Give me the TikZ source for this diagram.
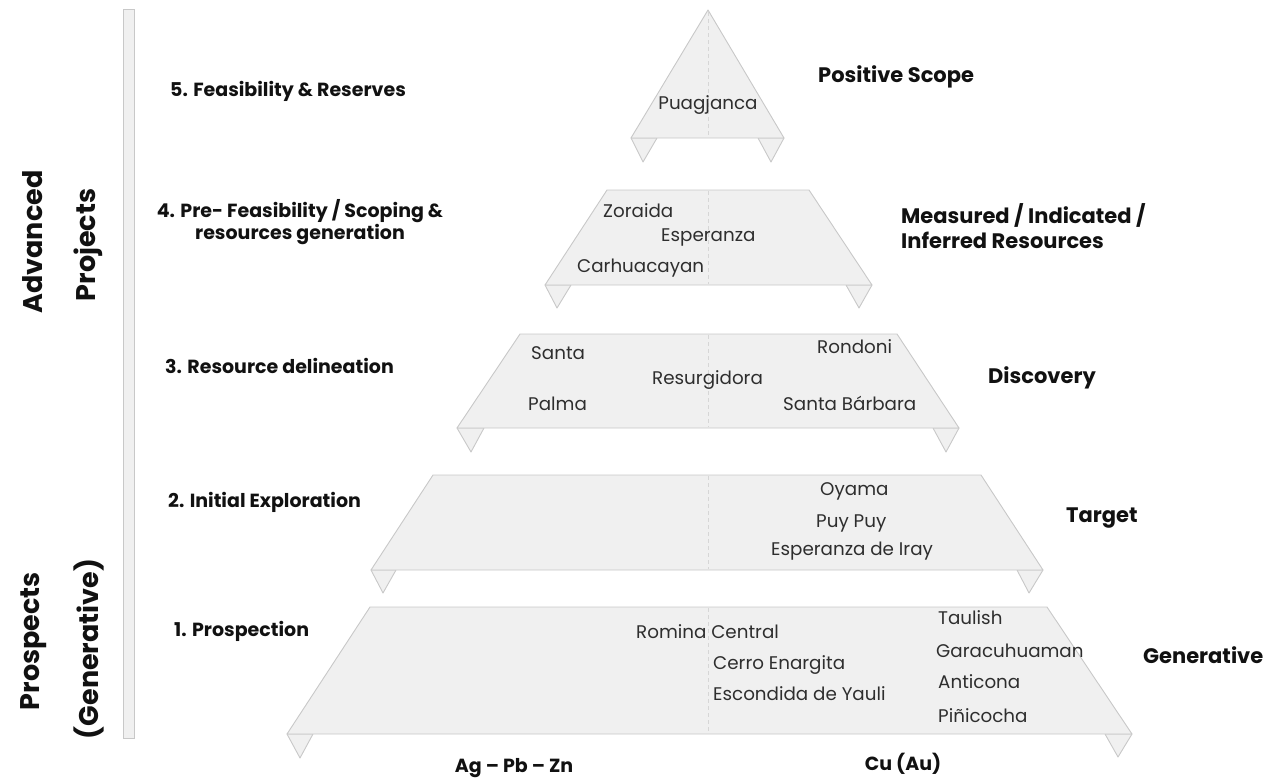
\documentclass[tikz,border=0pt]{standalone}
\usepackage{fontspec}
\setmainfont{Poppins}
\definecolor{tierfill}{HTML}{F0F0F0}
\definecolor{tierline}{HTML}{C8C8C8}
\definecolor{midline}{HTML}{D6D6D6}
\definecolor{inner}{HTML}{2E2E2E}
\definecolor{boldtxt}{HTML}{111111}
\tikzset{
  tier/.style={fill=tierfill, draw=tierline, line width=0.9pt, line join=round},
  tab/.style={fill=tierfill, draw=tierline, line width=0.9pt, line join=round},
  centreline/.style={draw=midline, dashed, dash pattern=on 4pt off 3pt, line width=0.8pt},
  site/.style={inner sep=0pt, anchor=base west, text=inner, font=\fontsize{18.3}{21}\selectfont},
  stage/.style={inner sep=0pt, anchor=base west, text=boldtxt, font=\bfseries\fontsize{19}{22}\selectfont},
  level/.style={inner sep=0pt, anchor=base west, text=boldtxt, font=\bfseries\fontsize{21}{25}\selectfont},
  grouplbl/.style={inner sep=0pt, rotate=90, text=boldtxt, font=\bfseries\fontsize{27}{32}\selectfont},
}
\begin{document}
\begin{tikzpicture}[x=1pt, y=-1pt]
\useasboundingbox (0,0) rectangle (1266,777);
% vertical bar
\draw[fill=tierfill, draw=tierline, line width=0.9pt] (123,9) rectangle (134,738);
% group labels
\node[grouplbl] (adv) at (33,242) {Advanced};
\node[grouplbl] (proj) at (88,245) {Projects};
\node[grouplbl] (pros) at (34,641) {Prospects};
\node[grouplbl] (gen) at (89,649) {(Generative)};

% level 5
\draw[tab] (631,138) -- (657,138) -- (643,162) -- cycle;
\draw[tab] (758,138) -- (784,138) -- (771,162) -- cycle;
\draw[tier] (708,10) -- (784,138) -- (631,138) -- cycle;
\draw[centreline] (708,12) -- (708,137);
% level 4
\draw[tab] (545,285) -- (571,285) -- (557,308) -- cycle;
\draw[tab] (846,285) -- (872,285) -- (859,308) -- cycle;
\draw[tier] (607,190) -- (809,190) -- (872,285) -- (545,285) -- cycle;
\draw[centreline] (708,191) -- (708,284);
% level 3
\draw[tab] (457,428) -- (484,428) -- (471,452) -- cycle;
\draw[tab] (933,428) -- (959,428) -- (946,452) -- cycle;
\draw[tier] (520,334) -- (897,334) -- (959,428) -- (457,428) -- cycle;
\draw[centreline] (708,335) -- (708,427);
% level 2
\draw[tab] (371,570) -- (396,570) -- (383,593) -- cycle;
\draw[tab] (1017,570) -- (1043,570) -- (1029,593) -- cycle;
\draw[tier] (433,475) -- (981,475) -- (1043,570) -- (371,570) -- cycle;
\draw[centreline] (708,476) -- (708,569);
% level 1
\draw[tab] (287,734) -- (313,734) -- (300,758) -- cycle;
\draw[tab] (1105,734) -- (1132,734) -- (1118,757) -- cycle;
\draw[tier] (370,607) -- (1047,607) -- (1132,734) -- (287,734) -- cycle;
\draw[centreline] (708,608) -- (708,733);

% sites
\node[site, anchor=base] (puag) at (708,109) {Puagjanca};
\node[site] (zor) at (603,217) {Zoraida};
\node[site] (esp) at (661,241) {Esperanza};
\node[site] (carh) at (577,272) {Carhuacayan};
\node[site] (santa) at (531,359) {Santa};
\node[site] (resu) at (652,384) {Resurgidora};
\node[site] (palma) at (528,410) {Palma};
\node[site] (rond) at (817,353) {Rondoni};
\node[site] (sbar) at (783,410) {Santa Bárbara};
\node[site] (oyama) at (820,495) {Oyama};
\node[site] (puy) at (816,527) {Puy Puy};
\node[site] (espi) at (771,555) {Esperanza de Iray};
\node[site] (rom) at (636,638) {Romina Central};
\node[site] (cerro) at (713,669) {Cerro Enargita};
\node[site] (esc) at (713,700) {Escondida de Yauli};
\node[site] (taul) at (938,624) {Taulish};
\node[site] (gara) at (936,657) {Garacuhuaman};
\node[site] (anti) at (938,688) {Anticona};
\node[site] (pini) at (938,722) {Piñicocha};

% stage labels (left)
\node[stage] (s5) at (170,96) {5. Feasibility \& Reserves};
\node[stage, anchor=north, align=center] (s4) at (300,199) {4. Pre- Feasibility / Scoping \&\\resources generation};
\node[stage] (s3) at (165,373) {3. Resource delineation};
\node[stage] (s2) at (168,507) {2. Initial Exploration};
\node[stage] (s1) at (174,636) {1. Prospection};

% category labels (right)
\node[level] (r5) at (818,82) {Positive Scope};
\node[level, anchor=north west, align=left] (r4) at (901,203) {Measured / Indicated /\\Inferred Resources};
\node[level] (r3) at (988,383) {Discovery};
\node[level] (r2) at (1066,522) {Target};
\node[level] (r1) at (1143,663) {Generative};

% bottom labels
\node[stage, anchor=base] (agpb) at (514,772) {Ag – Pb – Zn};
\node[stage, anchor=base] (cu) at (903,770) {Cu (Au)};
\end{tikzpicture}
\end{document}
